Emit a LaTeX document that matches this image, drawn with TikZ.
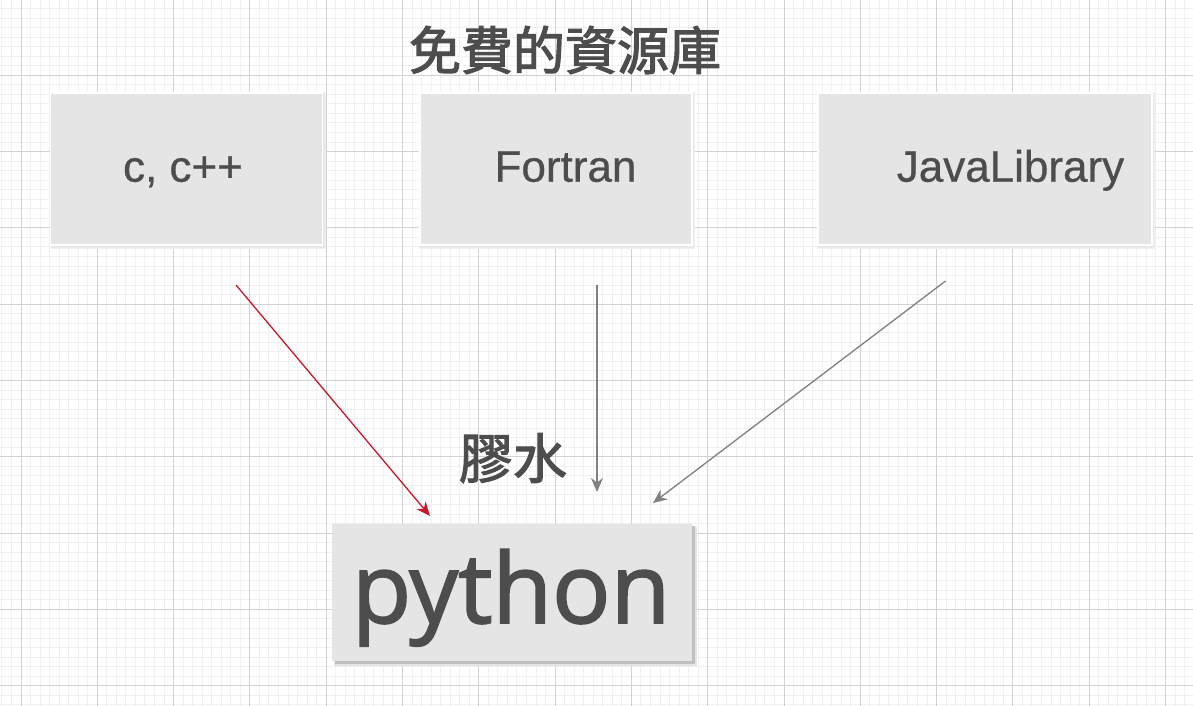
\documentclass[tikz,border=0pt]{standalone}
\usepackage{fontspec}
\setmainfont{Liberation Sans}[FakeBold=0.6]
\newfontfamily\cjk{Noto Sans CJK TC}[FakeBold=2.2]
\newfontfamily\pyfont{Open Sans}[FakeBold=1.8]
\usetikzlibrary{arrows.meta}
\definecolor{gridminor}{HTML}{F0F0F0}
\definecolor{gridmajor}{HTML}{D2D2D2}
\definecolor{boxfill}{HTML}{E5E5E5}
\definecolor{txt}{HTML}{4D4D4D}
\definecolor{redline}{HTML}{C8192E}
\definecolor{grayline}{HTML}{808080}
\tikzset{
  minorline/.style={draw=gridminor,line width=0.9pt},
  majorline/.style={draw=gridmajor,line width=1.5pt},
  libbox/.style={draw=white,line width=1.5pt,fill=boxfill,minimum width=272pt,minimum height=152pt,inner sep=0pt},
  pybox/.style={fill=boxfill,minimum width=360pt,minimum height=137pt,inner sep=0pt},
  libtext/.style={text=txt,font=\fontsize{44}{48}\selectfont,inner sep=0pt,anchor=base},
  cjktext/.style={text=txt,inner sep=0pt},
  conn/.style={line width=1.3pt,-{Stealth[length=14pt,width=12pt,inset=4.5pt]}},
}
\begin{document}
\begin{tikzpicture}[x=1pt,y=-1pt]
\useasboundingbox (0,0) rectangle (1193,706);
\fill[white] (0,0) rectangle (1193,706);
% grid
\foreach \i in {-3,...,123} {
  \pgfmathsetmacro\gx{floor(21+\i*9.5375)+0.5}
  \draw[minorline] (\gx,0) -- (\gx,706);
}
\foreach \i in {0,...,75} {
  \pgfmathsetmacro\gy{floor(-1+\i*9.5375)+0.5}
  \draw[minorline] (0,\gy) -- (1193,\gy);
}
\foreach \i in {0,...,15} {
  \pgfmathsetmacro\gx{floor(21+\i*76.3)+0.5}
  \draw[majorline] (\gx,0) -- (\gx,706);
}
\foreach \i in {0,...,9} {
  \pgfmathsetmacro\gy{floor(-1+\i*76.3)+0.5}
  \draw[majorline] (0,\gy) -- (1193,\gy);
}
% soft shadows of top boxes
\foreach \x/\w in {186.7/272,556/272,985/334} {
  \fill[black!6] ({\x-\w/2-1},92) rectangle ({\x+\w/2+3},249);
  \fill[black!9] ({\x-\w/2},93) rectangle ({\x+\w/2+2},247.5);
}
% python shadow
\fill[black!10] (334,527) rectangle (697,666);
\fill[black!25] (335,526) rectangle (695,664);
% boxes
\node[libbox] (cbox) at (186.7,169) {};
\node[libbox] (fbox) at (556,169) {};
\node[libbox,minimum width=334pt] (jbox) at (985,169) {};
\node[pybox] (pbox) at (512,592.3) {};
% labels
\node[libtext] (ctext) at (183,181.7) {c, c++};
\node[libtext] (ftext) at (565.5,181.7) {Fortran};
\node[libtext] (jtext) at (1010.5,181.7) {JavaLibrary};
\node[text=txt,inner sep=0pt,anchor=base,font=\pyfont\fontsize{97}{100}\selectfont] (ptext) at (511,623) {python};
\node[cjktext,font=\cjk\fontsize{52}{56}\selectfont] (title) at (565,50) {免費的資源庫};
\node[cjktext,font=\cjk\fontsize{54}{58}\selectfont] (glue) at (513,458) {膠水};
% connectors
\coordinate (cs) at (236,285);
\coordinate (ce) at (430,516);
\coordinate (fs) at (597,285);
\coordinate (fe) at (597,492);
\coordinate (js) at (945.5,281);
\coordinate (je) at (653,503);
\draw[conn,redline] (cs) -- (ce);
\draw[conn,grayline] (fs) -- (fe);
\draw[conn,grayline] (js) -- (je);
\end{tikzpicture}
\end{document}
